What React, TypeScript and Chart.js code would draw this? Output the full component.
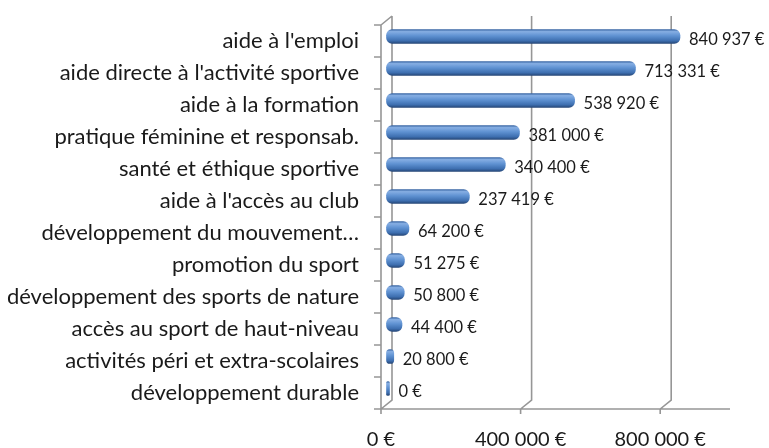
import { useEffect, useRef } from 'react';
import { Chart, registerables } from 'chart.js';

Chart.register(...registerables);

const categories = [
  "aide à l'emploi",
  "aide directe à l'activité sportive",
  'aide à la formation',
  'pratique féminine et responsab.',
  'santé et éthique sportive',
  "aide à l'accès au club",
  'développement du mouvement…',
  'promotion du sport',
  'développement des sports de nature',
  'accès au sport de haut-niveau',
  'activités péri et extra-scolaires',
  'développement durable',
];

const values = [840937, 713331, 538920, 381000, 340400, 237419, 64200, 51275, 50800, 44400, 20800, 0];

const xTickValues = [0, 400000, 800000];
const xMin = 0;
const xMax = 1000000;

const FONT = 'Lato, "Open Sans", sans-serif';
const DX = 11;
const DY = 9;
const LINE = '#969696';

function euro(v: number): string {
  const s = Math.round(v).toString().replace(/\B(?=(\d{3})+(?!\d))/g, '\u00a0');
  return s + '\u00a0€';
}

const framePlugin = {
  id: 'frame3d',
  beforeDatasetsDraw(chart: any) {
    const { ctx, chartArea, scales } = chart;
    const { left, right, top, bottom } = chartArea;
    const xs = scales.x;
    ctx.save();
    ctx.strokeStyle = LINE;
    ctx.lineWidth = 1.6;
    ctx.lineCap = 'butt';
    ctx.beginPath();
    xTickValues.forEach((v) => {
      const px = xs.getPixelForValue(v);
      ctx.moveTo(px + DX, top - DY);
      ctx.lineTo(px + DX, bottom - DY);
      ctx.lineTo(px, bottom);
      ctx.moveTo(px, bottom);
      ctx.lineTo(px, bottom + 5);
    });
    ctx.moveTo(left, top);
    ctx.lineTo(left + DX, top - DY);
    ctx.moveTo(left, top);
    ctx.lineTo(left, bottom);
    ctx.moveTo(left, bottom);
    ctx.lineTo(right, bottom);
    const n = categories.length;
    for (let i = 0; i <= n; i++) {
      const y = top + ((bottom - top) * i) / n;
      ctx.moveTo(left - 7, y);
      ctx.lineTo(left, y);
    }
    ctx.stroke();
    ctx.restore();
    ctx.save();
    ctx.translate(DX / 2, -DY / 2);
  },
  afterDatasetsDraw(chart: any) {
    const { ctx } = chart;
    ctx.restore();
    const meta = chart.getDatasetMeta(0);
    ctx.save();
    ctx.fillStyle = '#1a1a1a';
    ctx.font = `16.5px ${FONT}`;
    ctx.textAlign = 'left';
    ctx.textBaseline = 'middle';
    meta.data.forEach((el: any, i: number) => {
      ctx.fillText(euro(values[i]), el.x + DX / 2 + 9, el.y - 1);
    });
    ctx.restore();
  },
};

export default function App() {
  const ref = useRef<HTMLCanvasElement | null>(null);

  useEffect(() => {
    if (!ref.current) return;
    const chart = new Chart(ref.current, {
      type: 'bar',
      data: {
        labels: categories,
        datasets: [
          {
            data: values,
            backgroundColor: (c: any) => {
              const ch = c.chart;
              const ys = ch.scales && ch.scales.y;
              if (!ys || c.dataIndex === undefined) return '#4f81bd';
              const cy = ys.getPixelForValue(c.dataIndex);
              if (!Number.isFinite(cy)) return '#4f81bd';
              const g = ch.ctx.createLinearGradient(0, cy - 7, 0, cy + 7);
              g.addColorStop(0, '#3b68a6');
              g.addColorStop(0.15, '#86aee3');
              g.addColorStop(0.45, '#5f92d2');
              g.addColorStop(0.8, '#3e6fb0');
              g.addColorStop(1, '#264778');
              return g;
            },
            borderWidth: 0,
            borderRadius: 6,
            borderSkipped: false,
            barThickness: 14,
            minBarLength: 3,
            clip: false as any,
          },
        ],
      },
      options: {
        indexAxis: 'y',
        animation: false,
        responsive: false,
        layout: { padding: { top: 25, right: 39, left: 0, bottom: 0 } },
        plugins: {
          legend: { display: false },
          tooltip: { enabled: false },
          title: { display: false },
        },
        scales: {
          x: {
            type: 'linear',
            min: xMin,
            max: xMax,
            afterBuildTicks: (scale: any) => {
              scale.ticks = xTickValues.map((v) => ({ value: v }));
            },
            afterFit: (scale: any) => {
              scale.height = 39;
              scale.paddingLeft = 0;
              scale.paddingRight = 0;
            },
            grid: { display: false, drawTicks: false },
            border: { display: false },
            ticks: {
              callback: (v: any) => euro(Number(v)),
              font: { family: FONT, size: 20 },
              color: '#1a1a1a',
              padding: 19,
              maxRotation: 0,
              autoSkip: false,
            },
          },
          y: {
            type: 'category',
            afterFit: (scale: any) => {
              scale.width = 381;
              scale.paddingTop = 0;
              scale.paddingBottom = 0;
            },
            grid: { display: false, drawTicks: false },
            border: { display: false },
            ticks: {
              font: { family: FONT, size: 22 },
              color: '#1a1a1a',
              padding: 22,
              autoSkip: false,
            },
          },
        },
      },
      plugins: [framePlugin],
    } as any);
    return () => chart.destroy();
  }, []);

  return (
    <canvas
      ref={ref}
      width={769}
      height={448}
      style={{ position: 'absolute', left: 0, top: 0, width: 769, height: 448, display: 'block' }}
    />
  );
}
